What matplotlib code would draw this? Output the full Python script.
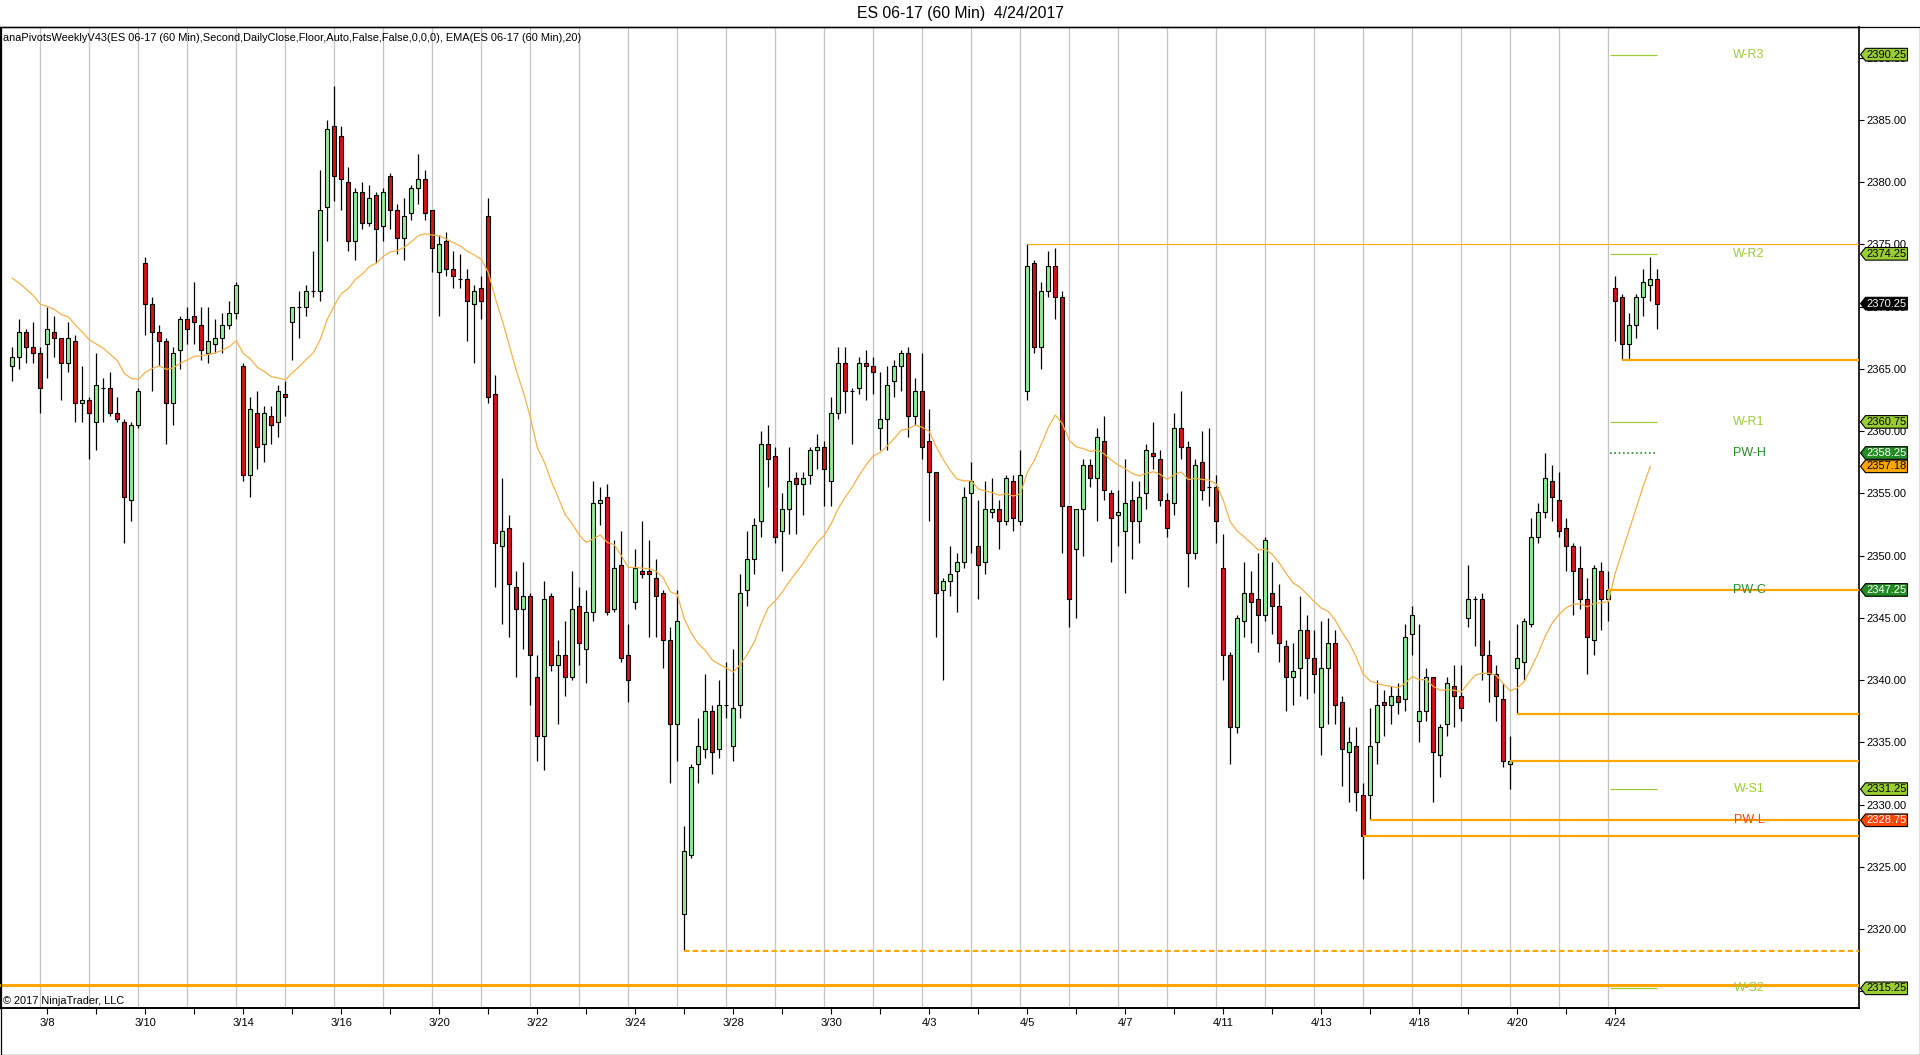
import numpy as np
import matplotlib
matplotlib.use('Agg')
import matplotlib.pyplot as plt
from matplotlib.patches import Polygon, Rectangle

plt.rcParams['font.family'] = ['Liberation Sans', 'DejaVu Sans']

# ---------------- data ----------------
opens = [2365.25, 2366.0, 2368.0, 2366.75, 2366.25, 2367.0, 2368.0, 2367.5, 2365.5, 2367.25,
         2362.25, 2362.5, 2360.75, 2363.5, 2363.5, 2361.5, 2360.75, 2354.5, 2360.5, 2373.5,
         2370.25, 2368.0, 2367.25, 2362.25, 2366.5, 2369.0, 2369.25, 2368.5, 2366.25, 2367.0,
         2367.5, 2368.5, 2369.5, 2365.25, 2356.5, 2361.5, 2359.0, 2361.25, 2360.75, 2363.0,
         2368.75, 2370.0, 2370.0, 2371.25, 2371.25, 2378.0, 2384.5, 2383.75, 2380.0, 2375.25,
         2379.25, 2376.75, 2379.0, 2376.5, 2380.5, 2377.75, 2375.5, 2377.5, 2379.5, 2380.25,
         2377.75, 2372.75, 2375.25, 2373.0, 2372.25, 2372.25, 2370.25, 2371.5, 2377.25, 2363.0,
         2350.75, 2352.25, 2347.5, 2345.75, 2346.75, 2340.25, 2335.5, 2346.75, 2341.25, 2342.0,
         2340.25, 2346.0, 2342.5, 2345.5, 2354.25, 2354.75, 2345.75, 2349.25, 2342.0, 2346.25,
         2348.75, 2348.75, 2348.25, 2347.0, 2343.25, 2336.5, 2321.25, 2326.0, 2333.25, 2334.5,
         2337.5, 2334.5, 2338.0, 2334.75, 2338.0, 2347.25, 2349.75, 2352.75, 2359.0, 2358.0,
         2352.0, 2353.75, 2356.25, 2355.75, 2356.5, 2358.5, 2358.75, 2356.0, 2361.5, 2365.5,
         2363.25, 2363.5, 2365.5, 2365.25, 2360.25, 2361.0, 2364.0, 2365.25, 2366.25, 2361.25,
         2363.25, 2359.25, 2356.75, 2347.25, 2348.0, 2348.75, 2349.5, 2355.0, 2350.75, 2349.5,
         2353.5, 2353.75, 2352.75, 2356.0, 2352.75, 2363.25, 2373.5, 2366.75, 2371.25, 2373.25,
         2370.75, 2354.0, 2350.5, 2353.75, 2357.25, 2356.25, 2359.25, 2355.0, 2353.25, 2352.0,
         2354.5, 2352.75, 2355.0, 2358.25, 2357.75, 2354.5, 2354.25, 2360.25, 2358.75, 2350.25,
         2357.5, 2355.5, 2355.5, 2349.0, 2342.0, 2336.25, 2344.75, 2347.0, 2346.5, 2345.25,
         2347.0, 2346.0, 2342.75, 2340.25, 2341.0, 2344.0, 2341.75, 2336.25, 2341.0, 2343.0,
         2338.25, 2334.25, 2334.75, 2330.75, 2330.75, 2335.0, 2338.25, 2338.0, 2338.75, 2338.5,
         2343.75, 2336.75, 2337.5, 2340.25, 2334.0, 2336.5, 2339.5, 2338.75, 2345.0, 2346.5,
         2346.5, 2342.0, 2340.5, 2338.5, 2333.25, 2341.0, 2341.5, 2344.5, 2351.5, 2353.5,
         2356.0, 2354.5, 2352.25, 2350.75, 2349.0, 2346.5, 2343.25, 2348.75, 2346.5, 2371.5,
         2370.75, 2367.0, 2368.5, 2370.75, 2371.75, 2372.25]

highs = [2366.75, 2369.0, 2368.25, 2368.75, 2366.75, 2370.0, 2369.25, 2367.5, 2368.75, 2367.75,
         2365.25, 2362.75, 2366.25, 2364.25, 2364.75, 2362.75, 2361.0, 2360.75, 2363.5, 2374.0,
         2370.75, 2368.5, 2367.5, 2366.75, 2369.25, 2370.0, 2372.0, 2370.0, 2370.0, 2369.0,
         2369.5, 2370.5, 2372.0, 2365.5, 2362.75, 2363.25, 2362.0, 2362.0, 2363.75, 2364.0,
         2370.0, 2371.25, 2371.75, 2374.5, 2381.0, 2385.0, 2387.75, 2384.5, 2381.25, 2379.5,
         2380.0, 2379.75, 2379.25, 2379.5, 2380.75, 2378.25, 2378.75, 2379.75, 2382.25, 2381.0,
         2377.75, 2375.75, 2376.0, 2374.5, 2374.25, 2373.0, 2371.75, 2372.5, 2378.75, 2364.5,
         2356.25, 2353.25, 2348.75, 2349.5, 2347.0, 2342.0, 2348.0, 2347.0, 2343.25, 2344.75,
         2348.75, 2347.5, 2347.25, 2356.0, 2355.5, 2355.75, 2351.25, 2352.0, 2344.5, 2350.5,
         2352.75, 2351.25, 2349.75, 2347.25, 2344.25, 2347.25, 2328.25, 2333.25, 2337.0, 2340.5,
         2338.0, 2340.0, 2341.5, 2342.5, 2348.5, 2352.0, 2353.0, 2360.0, 2360.5, 2358.75,
         2355.0, 2358.75, 2356.75, 2356.75, 2358.75, 2359.75, 2359.25, 2362.75, 2366.75, 2366.75,
         2363.5, 2366.0, 2366.5, 2366.0, 2364.75, 2365.25, 2365.75, 2366.5, 2366.75, 2364.25,
         2366.25, 2361.75, 2356.75, 2348.25, 2350.75, 2350.25, 2355.5, 2357.5, 2354.5, 2356.0,
         2356.25, 2354.5, 2356.5, 2356.5, 2358.5, 2375.0, 2373.75, 2372.0, 2374.5, 2374.75,
         2371.25, 2354.0, 2353.75, 2357.75, 2357.75, 2360.25, 2361.25, 2355.25, 2355.25, 2357.75,
         2356.0, 2356.0, 2359.0, 2360.75, 2358.5, 2355.0, 2361.5, 2363.25, 2359.25, 2357.75,
         2360.0, 2360.25, 2356.5, 2351.75, 2342.25, 2345.25, 2349.5, 2348.75, 2350.25, 2351.5,
         2349.5, 2347.75, 2343.25, 2343.0, 2346.75, 2345.25, 2344.0, 2344.75, 2345.0, 2344.0,
         2338.75, 2336.25, 2336.25, 2331.75, 2337.75, 2340.0, 2339.25, 2339.5, 2339.75, 2344.5,
         2346.0, 2344.5, 2341.0, 2340.25, 2336.5, 2340.25, 2341.25, 2341.25, 2349.25, 2346.75,
         2347.0, 2343.25, 2341.25, 2339.75, 2335.5, 2344.5, 2345.0, 2353.0, 2354.25, 2358.25,
         2357.25, 2356.75, 2353.0, 2351.0, 2350.75, 2348.25, 2349.25, 2349.5, 2348.75, 2372.5,
         2371.0, 2369.5, 2371.0, 2373.0, 2374.0, 2373.0]

lows = [2364.0, 2365.0, 2365.5, 2365.5, 2361.5, 2364.25, 2366.0, 2362.5, 2364.75, 2360.75,
        2360.75, 2357.75, 2358.5, 2360.75, 2361.25, 2360.75, 2351.0, 2352.75, 2360.25, 2367.75,
        2363.25, 2365.25, 2359.0, 2360.5, 2365.0, 2367.0, 2367.0, 2365.75, 2365.5, 2366.25,
        2366.25, 2368.25, 2369.0, 2356.0, 2354.75, 2357.0, 2357.5, 2359.0, 2359.5, 2361.25,
        2365.75, 2367.5, 2369.25, 2370.75, 2370.5, 2375.25, 2378.5, 2377.75, 2374.5, 2373.75,
        2376.25, 2376.5, 2373.5, 2375.25, 2376.25, 2374.25, 2373.75, 2377.0, 2378.25, 2377.0,
        2372.75, 2369.25, 2372.5, 2371.5, 2371.5, 2367.25, 2365.5, 2369.0, 2362.25, 2347.5,
        2344.5, 2343.5, 2340.25, 2342.5, 2338.0, 2333.5, 2332.75, 2340.75, 2336.5, 2338.75,
        2340.0, 2341.25, 2339.75, 2344.75, 2352.5, 2345.25, 2345.5, 2341.5, 2338.25, 2345.75,
        2348.25, 2343.5, 2343.5, 2341.0, 2331.75, 2333.5, 2318.25, 2325.75, 2331.75, 2333.75,
        2332.5, 2333.75, 2337.0, 2333.5, 2337.0, 2346.0, 2348.5, 2351.5, 2355.5, 2351.0,
        2348.75, 2351.75, 2351.75, 2353.25, 2355.75, 2357.0, 2354.0, 2354.0, 2361.0, 2361.5,
        2359.0, 2363.0, 2362.5, 2363.0, 2358.5, 2358.5, 2362.75, 2363.25, 2359.5, 2360.5,
        2357.75, 2352.75, 2343.5, 2340.0, 2346.75, 2345.5, 2349.0, 2350.25, 2346.5, 2348.5,
        2353.0, 2350.5, 2352.5, 2352.0, 2352.5, 2362.5, 2366.25, 2365.0, 2370.75, 2369.0,
        2350.25, 2344.25, 2345.0, 2350.0, 2355.5, 2352.75, 2354.5, 2349.5, 2350.75, 2347.0,
        2349.75, 2351.0, 2353.75, 2357.0, 2354.0, 2351.5, 2353.25, 2357.75, 2347.5, 2349.75,
        2354.5, 2354.0, 2351.0, 2340.0, 2333.25, 2335.75, 2343.5, 2343.0, 2342.25, 2344.75,
        2343.75, 2341.5, 2337.5, 2338.0, 2338.75, 2338.5, 2339.0, 2334.0, 2336.5, 2336.5,
        2331.5, 2330.25, 2329.5, 2324.0, 2328.75, 2333.25, 2335.5, 2336.5, 2337.25, 2337.5,
        2342.0, 2335.0, 2336.75, 2330.25, 2332.25, 2335.5, 2336.25, 2336.75, 2344.25, 2342.75,
        2340.0, 2338.25, 2336.75, 2333.0, 2331.25, 2337.25, 2340.0, 2344.25, 2351.0, 2353.0,
        2352.75, 2351.5, 2348.75, 2345.25, 2345.75, 2340.5, 2342.0, 2344.0, 2344.75, 2367.25,
        2365.75, 2365.75, 2367.5, 2369.25, 2370.5, 2368.25]

closes = [2366.0, 2368.0, 2366.75, 2366.25, 2363.5, 2368.25, 2367.5, 2365.5, 2367.5, 2362.25,
          2362.5, 2361.5, 2363.75, 2363.5, 2361.5, 2361.0, 2354.75, 2360.5, 2363.25, 2370.25,
          2368.0, 2367.25, 2362.25, 2366.25, 2369.0, 2368.25, 2368.75, 2366.5, 2367.25, 2367.5,
          2368.5, 2369.5, 2371.75, 2356.5, 2361.75, 2358.75, 2361.5, 2360.5, 2363.25, 2362.75,
          2370.0, 2370.0, 2371.25, 2371.25, 2377.75, 2384.25, 2380.5, 2380.25, 2375.25, 2379.25,
          2376.75, 2378.75, 2376.25, 2379.25, 2377.75, 2375.5, 2377.25, 2379.5, 2380.25, 2377.5,
          2374.75, 2375.0, 2373.0, 2372.5, 2372.25, 2370.5, 2371.25, 2370.5, 2362.75, 2351.0,
          2352.0, 2347.75, 2345.75, 2346.75, 2342.0, 2335.5, 2346.5, 2341.25, 2342.0, 2340.25,
          2345.75, 2343.0, 2345.5, 2354.25, 2354.5, 2345.5, 2349.0, 2341.75, 2340.0, 2349.0,
          2348.5, 2348.5, 2346.75, 2343.25, 2336.5, 2344.75, 2326.25, 2333.0, 2334.75, 2337.5,
          2334.25, 2338.0, 2338.0, 2337.75, 2347.0, 2349.75, 2352.5, 2359.0, 2357.75, 2351.5,
          2353.75, 2356.0, 2355.75, 2356.25, 2358.5, 2358.75, 2357.0, 2361.5, 2365.5, 2363.25,
          2363.25, 2365.5, 2365.25, 2364.75, 2361.0, 2363.75, 2365.25, 2366.25, 2361.25, 2363.25,
          2358.75, 2356.75, 2347.0, 2348.0, 2348.5, 2349.5, 2354.75, 2356.0, 2349.25, 2353.75,
          2353.75, 2352.75, 2356.25, 2353.0, 2356.5, 2373.25, 2366.75, 2371.25, 2373.25, 2370.75,
          2354.0, 2346.5, 2353.75, 2357.25, 2356.25, 2359.5, 2355.25, 2353.0, 2353.5, 2354.25,
          2352.75, 2354.75, 2358.5, 2358.0, 2354.5, 2352.25, 2360.25, 2358.75, 2350.25, 2357.25,
          2355.25, 2355.5, 2352.75, 2342.0, 2336.25, 2345.0, 2347.0, 2346.25, 2345.25, 2351.25,
          2346.0, 2343.0, 2340.25, 2340.75, 2344.0, 2341.75, 2340.5, 2341.0, 2343.0, 2338.0,
          2334.5, 2335.0, 2331.0, 2327.5, 2334.75, 2338.0, 2338.0, 2338.75, 2338.25, 2343.5,
          2345.25, 2337.5, 2340.25, 2334.25, 2336.25, 2339.75, 2338.75, 2337.75, 2346.5, 2346.5,
          2342.0, 2340.5, 2338.75, 2333.5, 2333.5, 2341.75, 2344.75, 2351.5, 2353.5, 2356.25,
          2354.75, 2352.0, 2350.75, 2348.75, 2346.5, 2343.5, 2349.0, 2346.5, 2347.25, 2370.5,
          2367.0, 2368.5, 2370.75, 2372.0, 2372.25, 2370.25]

day_labels = ['3/8', '3/9', '3/10', '3/13', '3/14', '3/15', '3/16', '3/17', '3/20', '3/21',
              '3/22', '3/23', '3/24', '3/27', '3/28', '3/29', '3/30', '3/31', '4/3', '4/4',
              '4/5', '4/6', '4/7', '4/10', '4/11', '4/12', '4/13', '4/17', '4/18', '4/19',
              '4/20', '4/21', '4/24']

EMA_PERIOD = 20
EMA_SEED = 2372.3          # EMA value at the first visible bar
EMA_LAST_LABEL = 2357.18   # value shown on the EMA flag

ray_levels = [2375.0, 2365.75, 2347.25, 2337.25, 2333.5, 2328.75, 2327.5]
ray_start_bar = [145, 230, 228, 215, 214, 194, 193]
dashed_level = 2318.25
dashed_start_bar = 96
floor_level = 2315.5

pivot_names = ['W-R3', 'W-R2', 'W-R1', 'PW-H', 'PW-C', 'W-S1', 'PW-L', 'W-S2']
pivot_values = [2390.25, 2374.25, 2360.75, 2358.25, 2347.25, 2331.25, 2328.75, 2315.25]
last_price = 2370.25

title = 'ES 06-17 (60 Min)  4/24/2017'
indicator_text = ('anaPivotsWeeklyV43(ES 06-17 (60 Min),Second,DailyClose,Floor,Auto,False,'
                  'False,0,0,0), EMA(ES 06-17 (60 Min),20)')
copyright_text = '\u00a9 2017 NinjaTrader, LLC'

# ---------------- layout ----------------
W, H = 1920, 1055
fig = plt.figure(figsize=(W / 100, H / 100), dpi=100)
fig.patch.set_facecolor('white')

PL, PR, PT, PB = 0, 1859, 27, 1008
BAR_PX, X0_PX = 7.0, 12.3
ax = fig.add_axes([PL / W, 1 - PB / H, (PR - PL) / W, (PB - PT) / H])
xlim = ((PL - X0_PX) / BAR_PX, (PR - X0_PX) / BAR_PX)
ylim = (2313.67, 2392.47)
ax.set_xlim(*xlim)
ax.set_ylim(*ylim)
ax.set_facecolor('white')

o = np.array(opens); h = np.array(highs); l = np.array(lows); c = np.array(closes)
n = len(c)
x = np.arange(n)

# day separators
BARS_PER_DAY = 7
FIRST_DAY_START = 5
day_starts = [FIRST_DAY_START + BARS_PER_DAY * k for k in range(len(day_labels))]
for s in day_starts:
    ax.axvline(s - 1, color='#C4C4C4', lw=0.9, zorder=1)

# candles
up = c >= o
body_colors = np.where(up, '#90EE90', '#D41414')
ax.vlines(x, l, h, color='black', lw=0.9, zorder=3)
ax.bar(x, np.abs(c - o), bottom=np.minimum(o, c), width=0.62, color=body_colors,
       edgecolor='black', linewidth=0.8, zorder=4)

# EMA
alpha = 2.0 / (EMA_PERIOD + 1)
ema = np.empty(n)
ema[0] = EMA_SEED
for i in range(1, n):
    ema[i] = ema[i - 1] + alpha * (c[i] - ema[i - 1])
ax.plot(x[:-1], ema[:-1], color='#F5B24A', lw=0.9, zorder=5)

# horizontal rays
ORANGE = '#FFA500'
for lvl, sb in zip(ray_levels, ray_start_bar):
    lw = 0.8 if lvl == ray_levels[0] else 1.6
    ax.hlines(lvl, sb, xlim[1], color=ORANGE, lw=lw, zorder=6)
ax.hlines(dashed_level, dashed_start_bar, xlim[1], color=ORANGE, lw=1.5,
          linestyles=(0, (2.6, 1.6)), zorder=6)
ax.axhline(floor_level, color=ORANGE, lw=2.2, zorder=6)

# weekly pivot segments and labels
YG, FG, OR = '#9ACD32', '#228B22', '#FF4500'
piv_color = {'W-R3': YG, 'W-R2': YG, 'W-R1': YG, 'W-S1': YG, 'W-S2': YG,
             'PW-H': FG, 'PW-C': FG, 'PW-L': OR}
seg_x0, seg_x1 = n - 8 + 0.2, n - 1
label_x = 248.1
for name, val in zip(pivot_names, pivot_values):
    col = piv_color[name]
    if name.startswith('PW'):
        ax.hlines(val, seg_x0, seg_x1, color=col, lw=1.2, linestyles=(0, (1, 1.6)), zorder=5)
    else:
        ax.hlines(val, seg_x0, seg_x1, color=col, lw=0.9, zorder=7)
    ax.text(label_x, val, name, color=col, fontsize=9, ha='center', va='center', zorder=8)

# axes styling
for sp in ax.spines.values():
    sp.set_color('black')
    sp.set_linewidth(1.0)
ax.spines['bottom'].set_linewidth(1.4)
ax.spines['right'].set_linewidth(1.2)

ax.yaxis.tick_right()
yt = np.arange(2315, 2391, 5)
ax.set_yticks(yt)
ax.set_yticklabels([f'{v:.2f}' for v in yt])
ax.tick_params(axis='y', direction='out', length=3.6, width=0.8, pad=1.5, labelsize=8,
               colors='black')
ax.set_xticks(day_starts)
ax.set_xticklabels([lab if k % 2 == 0 else '' for k, lab in enumerate(day_labels)])
ax.tick_params(axis='x', direction='out', length=4.5, width=0.8, pad=2.5, labelsize=8,
               colors='black')

# price flags on the right axis
axr = fig.add_axes([PR / W, 1 - PB / H, (W - PR) / W, (PB - PT) / H])
axr.set_xlim(0, W - PR)
axr.set_ylim(*ylim)
axr.axis('off')
axr.patch.set_visible(False)
px_per_pt = (PB - PT) / (ylim[1] - ylim[0])
hh = 6.3 / px_per_pt


def flag(val, face, txtcol):
    verts = [(1.5, val), (6.5, val + hh), (48.5, val + hh), (48.5, val - hh), (6.5, val - hh)]
    axr.add_patch(Polygon(verts, closed=True, facecolor=face, edgecolor='black', lw=0.8,
                          zorder=5))
    axr.text(7.5, val, f'{val:.2f}', color=txtcol, fontsize=8, ha='left', va='center',
             zorder=6)


flag_face = {YG: (YG, 'black'), FG: (FG, 'white'), OR: (OR, 'white')}
for name, val in zip(pivot_names, pivot_values):
    fc, tc = flag_face[piv_color[name]]
    flag(val, fc, tc)
flag(last_price, 'black', 'white')
flag(EMA_LAST_LABEL, ORANGE, 'black')

# outer frame
fig.add_artist(Rectangle((0.5 / W, 0.5 / H), (W - 1) / W, (H - PT - 0.5) / H,
                         transform=fig.transFigure, fill=False, edgecolor='black', lw=0.9))

# texts
r = fig.canvas.get_renderer()


def fit(t, target_px):
    w = t.get_window_extent(renderer=r).width
    t.set_fontsize(t.get_fontsize() * target_px / w)


t1 = fig.text(0.5, 1 - 13.5 / H, title, ha='center', va='center', fontsize=10, color='black')
fit(t1, 207)
t2 = fig.text(3 / W, 1 - 38 / H, indicator_text, ha='left', va='center', fontsize=8,
              color='black')
fit(t2, 580)
t3 = fig.text(3 / W, 1 - 1001 / H, copyright_text, ha='left', va='center', fontsize=8,
              color='black')
fit(t3, 122)

fig.savefig('out.png', dpi=100, facecolor='white')
